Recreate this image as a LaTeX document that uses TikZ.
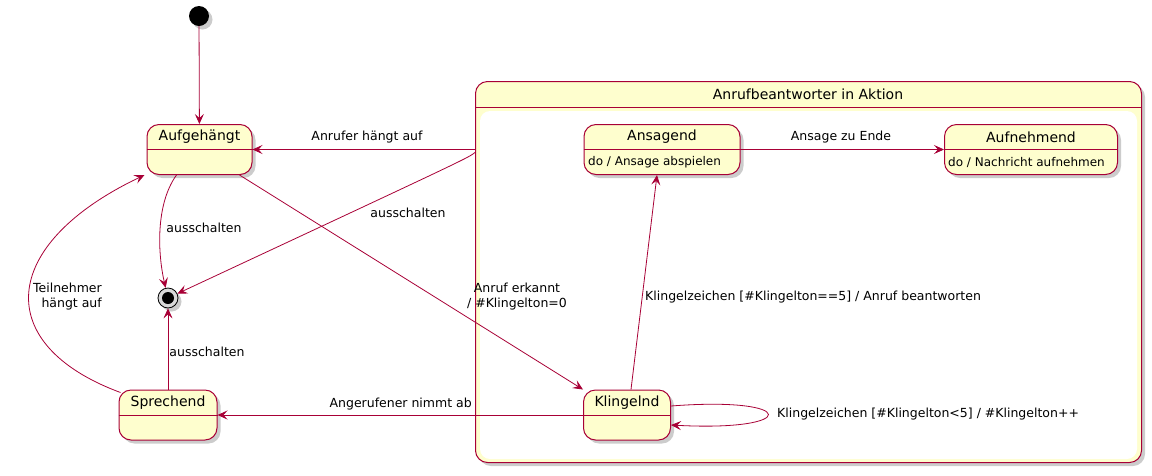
\documentclass[tikz,border=0pt]{standalone}
\usepackage{fontspec}
\setmainfont{DejaVu Sans}
\usetikzlibrary{arrows.meta,shadows,calc}
\definecolor{pred}{HTML}{A80036}
\definecolor{pyel}{HTML}{FEFECE}
\tikzset{
  shad/.style={drop shadow={shadow xshift=3.5pt,shadow yshift=-3.5pt,fill=black!50,opacity=0.4}},
  statebox/.style={draw=pred,fill=pyel,line width=1pt,rounded corners=12pt,shad,inner sep=0pt},
  sname/.style={font=\fontsize{14}{16}\selectfont,inner sep=0pt},
  sact/.style={font=\fontsize{12}{14}\selectfont,inner sep=0pt,anchor=west},
  lbl/.style={font=\fontsize{12.5}{15}\selectfont,inner sep=0pt},
  tr/.style={draw=pred,line width=0.8pt,-{Stealth[length=10pt,width=9pt,inset=4pt]}},
  divl/.style={draw=pred,line width=0.9pt},
}
\begin{document}
\begin{tikzpicture}[x=1pt,y=-1pt]
\useasboundingbox (0,0) rectangle (1152,475);
% composite
\node[statebox,minimum width=666,minimum height=381] (comp) at (808.5,272) {};
\fill[white,rounded corners=10pt] (480,111) rectangle (1137,459);
\draw[divl] (comp.west |- 0,107) -- (comp.east |- 0,107);
\node[sname] (ctitle) at (808,94) {Anrufbeantworter in Aktion};
% initial and final
\node[circle,fill=black,minimum size=20pt,inner sep=0pt,shad] (ini) at (199,16) {};
\node[circle,draw=black,line width=0.8pt,fill=black!15,minimum size=20pt,inner sep=0pt,shad] (fin) at (168,298) {};
\node[circle,fill=black,minimum size=12pt,inner sep=0pt] (fininner) at (fin) {};
% states
\node[statebox,minimum width=105,minimum height=50] (auf) at (199.5,149.5) {};
\draw[divl] (auf.west) -- (auf.east);
\node[sname] (aufn) at (199.5,137) {Aufgehängt};
\node[statebox,minimum width=98,minimum height=50] (spr) at (168,415) {};
\draw[divl] (spr.west) -- (spr.east);
\node[sname] (sprn) at (168,403) {Sprechend};
\node[statebox,minimum width=87,minimum height=50] (kli) at (627,415) {};
\draw[divl] (kli.west) -- (kli.east);
\node[sname] (klin) at (627,403) {Klingelnd};
\node[statebox,minimum width=156,minimum height=50] (ans) at (662,149.5) {};
\draw[divl] (ans.west) -- (ans.east);
\node[sname] (ansn) at (662,137) {Ansagend};
\node[sact] (ansa) at (588,162) {do / Ansage abspielen};
\node[statebox,minimum width=173,minimum height=50] (aufm) at (1031,149.5) {};
\draw[divl] (aufm.west) -- (aufm.east);
\node[sname] (aufmn) at (1031,137) {Aufnehmend};
\node[sact] (aufma) at (948,162) {do / Nachricht aufnehmen};
% connectors
\draw[tr] (ini) -- (auf);
\draw[tr] (comp.west |- auf.east) -- (auf.east);
\coordinate (c1) at ($(comp.west |- auf.east)+(0,3)$);
\draw[tr] (c1) .. controls (468,158) .. (fin);
\coordinate (a1) at ($(auf.south)+(-23,0)$);
\draw[tr] (a1) .. controls (155,205) and (158,255) .. (fin);
\coordinate (a2) at ($(auf.south)+(40,0)$);
\draw[tr] (a2) -- (kli.north west);
\coordinate (s1) at ($(spr.north west)+(2,3)$);
\coordinate (a3) at ($(auf.south west)+(-2,0)$);
\draw[tr] (s1) .. controls (-8,345) and (-2,245) .. (a3);
\draw[tr] (spr) -- (fin);
\draw[tr] (kli.west) -- (spr.east);
\coordinate (k1) at ($(kli.north)+(4,0)$);
\coordinate (n1) at ($(ans.south)+(-5,0)$);
\draw[tr] (k1) -- (n1);
\coordinate (k2) at ($(kli.east)+(0,-9)$);
\coordinate (k3) at ($(kli.east)+(0,10)$);
\draw[tr] (k2) .. controls (800,396) and (800,432) .. (k3);
\draw[tr] (ans.east) -- (aufm.west);
% labels
\node[lbl] (l1) at (367,137) {Anrufer hängt auf};
\node[lbl] (l2) at (408,213) {ausschalten};
\node[lbl] (l3) at (204,228) {ausschalten};
\node[lbl,align=center] (l4) at (517,297) {Anruf erkannt\\/ \#Klingelton=0};
\node[lbl,align=right,anchor=east] (l5) at (102,297) {Teilnehmer\\hängt auf};
\node[lbl] (l6) at (207,352) {ausschalten};
\node[lbl,anchor=east] (l7) at (472,404) {Angerufener nimmt ab};
\node[lbl,anchor=west] (l8) at (645,297) {Klingelzeichen [\#Klingelton==5] / Anruf beantworten};
\node[lbl,anchor=west] (l9) at (777,414) {Klingelzeichen [\#Klingelton<5] / \#Klingelton++};
\node[lbl] (l10) at (841,137) {Ansage zu Ende};
\end{tikzpicture}
\end{document}
